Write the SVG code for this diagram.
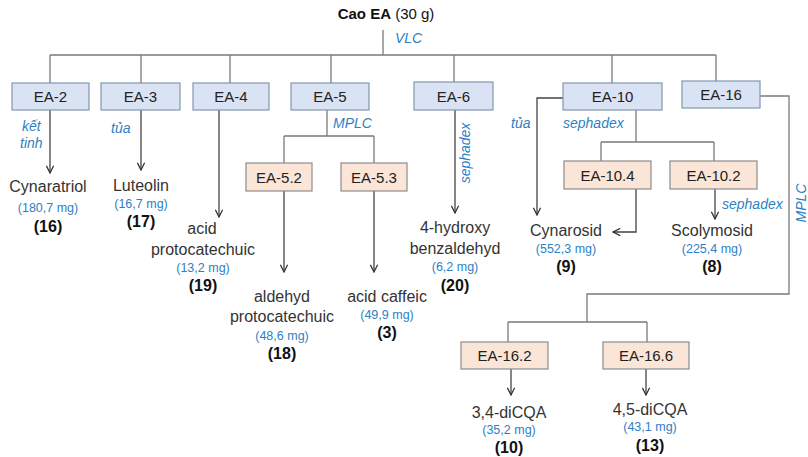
<svg xmlns="http://www.w3.org/2000/svg" width="808" height="457" viewBox="0 0 808 457">
<defs>
<style>
text{font-family:"Liberation Sans",Arial,sans-serif}
.bb{fill:#dae3f3;stroke:#8497b0;stroke-width:1.2}
.pb{fill:#fbe5d6;stroke:#8c8c8c;stroke-width:1.2}
.bl{font-size:15px;fill:#222;text-anchor:middle}
.cn{font-size:16px;fill:#333;text-anchor:middle}
.mg{font-size:12.5px;fill:#2e7fc4;text-anchor:middle}
.nb{font-size:16px;font-weight:bold;fill:#111;text-anchor:middle}
.lb{font-size:14px;font-style:italic;fill:#2e7fc4}
.ln{fill:none;stroke:#7a7a7a;stroke-width:1.3}
.ar{fill:none;stroke:#444;stroke-width:1.3;marker-end:url(#ah)}
</style>
<marker id="ah" viewBox="0 0 10 10" refX="9" refY="5" markerWidth="9" markerHeight="9" markerUnits="userSpaceOnUse" orient="auto"><path d="M1,1 L9,5 L1,9" fill="none" stroke="#333" stroke-width="1.4"/></marker>
</defs>
<rect width="808" height="457" fill="#fff"/>

<g id="connectors">
<path class="ln" d="M383,30 V55 M50,55 H716 M50,55 V83 M141,55 V83 M230,55 V83 M331,55 V83 M454,55 V82 M612,55 V83 M716,55 V81"/>
<path class="ar" d="M50,110 V173"/>
<path class="ar" d="M141,110 V170"/>
<path class="ar" d="M219,110 V217"/>
<path class="ln" d="M327,110 V136 M284,136 H374 M284,136 V163 M374,136 V163"/>
<path class="ar" d="M284,191 V272"/>
<path class="ar" d="M374,191 V272"/>
<path class="ar" d="M455,110 V213"/>
<path class="ar" d="M563,98 H537 V215"/>
<path class="ln" d="M636,110 V142 M601,142 H714 M601,142 V161 M714,142 V161"/>
<path class="ar" d="M636,189 V232 H613"/>
<path class="ar" d="M715,189 V219"/>
<path class="ln" d="M760,96 H789 V294 H587 V322 M508,322 H647 M508,322 V342 M647,322 V342"/>
<path class="ar" d="M511,369 V395"/>
<path class="ar" d="M646,369 V395"/>
<text class="lb" x="395" y="43">VLC</text>
<text class="lb" x="22" y="131">kết</text>
<text class="lb" x="20" y="148">tinh</text>
<text class="lb" x="111" y="133">tủa</text>
<text class="lb" x="333" y="128">MPLC</text>
<text class="lb" transform="translate(470,153) rotate(-90)" text-anchor="middle">sephadex</text>
<text class="lb" x="511" y="128">tủa</text>
<text class="lb" x="563" y="128">sephadex</text>
<text class="lb" x="722" y="209">sephadex</text>
<text class="lb" transform="translate(806,203) rotate(-90)" text-anchor="middle">MPLC</text>
</g>

<g id="cao-ea"><text x="386" y="19" style="font-size:15px;fill:#111;text-anchor:middle"><tspan font-weight="bold">Cao EA</tspan> (30 g)</text></g>

<g id="ea-2"><rect class="bb" x="12" y="83" width="77" height="27"/><text class="bl" x="50.5" y="102">EA-2</text></g>
<g id="ea-3"><rect class="bb" x="101" y="83" width="79" height="27"/><text class="bl" x="140.5" y="102">EA-3</text></g>
<g id="ea-4"><rect class="bb" x="193" y="83" width="76" height="27"/><text class="bl" x="231" y="102">EA-4</text></g>
<g id="ea-5"><rect class="bb" x="291" y="83" width="78" height="27"/><text class="bl" x="330" y="102">EA-5</text></g>
<g id="ea-6"><rect class="bb" x="414" y="82" width="79" height="28"/><text class="bl" x="453.5" y="101.5">EA-6</text></g>
<g id="ea-10"><rect class="bb" x="563" y="83" width="99" height="27"/><text class="bl" x="612.5" y="102">EA-10</text></g>
<g id="ea-16"><rect class="bb" x="682" y="81" width="78" height="27"/><text class="bl" x="721" y="100">EA-16</text></g>

<g id="ea-5-2"><rect class="pb" x="246" y="163" width="66" height="28"/><text class="bl" x="279" y="182.5">EA-5.2</text></g>
<g id="ea-5-3"><rect class="pb" x="341" y="163" width="66" height="28"/><text class="bl" x="374" y="182.5">EA-5.3</text></g>
<g id="ea-10-4"><rect class="pb" x="564" y="161" width="87" height="28"/><text class="bl" x="607.5" y="180.5">EA-10.4</text></g>
<g id="ea-10-2"><rect class="pb" x="670" y="161" width="87" height="28"/><text class="bl" x="713.5" y="180.5">EA-10.2</text></g>
<g id="ea-16-2"><rect class="pb" x="461" y="342" width="87" height="27"/><text class="bl" x="504.5" y="361">EA-16.2</text></g>
<g id="ea-16-6"><rect class="pb" x="603" y="342" width="86" height="27"/><text class="bl" x="646" y="361">EA-16.6</text></g>

<g id="c16"><text class="cn" x="48" y="192">Cynaratriol</text><text class="mg" x="48" y="212">(180,7 mg)</text><text class="nb" x="48" y="232">(16)</text></g>
<g id="c17"><text class="cn" x="141" y="191">Luteolin</text><text class="mg" x="141" y="208">(16,7 mg)</text><text class="nb" x="141" y="227">(17)</text></g>
<g id="c19"><text class="cn" x="202" y="234">acid</text><text class="cn" x="203" y="255">protocatechuic</text><text class="mg" x="203" y="272">(13,2 mg)</text><text class="nb" x="203" y="291">(19)</text></g>
<g id="c18"><text class="cn" x="282" y="302">aldehyd</text><text class="cn" x="282" y="322">protocatechuic</text><text class="mg" x="282" y="340">(48,6 mg)</text><text class="nb" x="282" y="359">(18)</text></g>
<g id="c3"><text class="cn" x="387" y="302">acid caffeic</text><text class="mg" x="387" y="319">(49,9 mg)</text><text class="nb" x="387" y="338">(3)</text></g>
<g id="c20"><text class="cn" x="455" y="233">4-hydroxy</text><text class="cn" x="455" y="254">benzaldehyd</text><text class="mg" x="455" y="271">(6,2 mg)</text><text class="nb" x="455" y="291">(20)</text></g>
<g id="c9"><text class="cn" x="566" y="236">Cynarosid</text><text class="mg" x="566" y="253">(552,3 mg)</text><text class="nb" x="566" y="272">(9)</text></g>
<g id="c8"><text class="cn" x="712" y="236">Scolymosid</text><text class="mg" x="712" y="253">(225,4 mg)</text><text class="nb" x="712" y="272">(8)</text></g>
<g id="c10"><text class="cn" x="509" y="418">3,4-diCQA</text><text class="mg" x="509" y="434">(35,2 mg)</text><text class="nb" x="509" y="453">(10)</text></g>
<g id="c13"><text class="cn" x="650" y="415">4,5-diCQA</text><text class="mg" x="650" y="431">(43,1 mg)</text><text class="nb" x="650" y="451">(13)</text></g>
</svg>
